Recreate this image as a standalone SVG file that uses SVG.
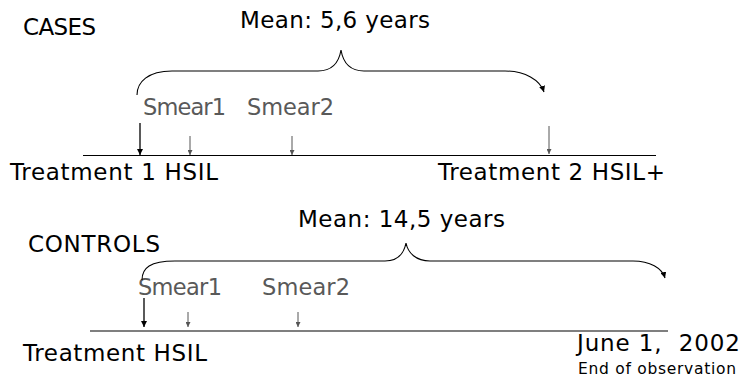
<svg xmlns="http://www.w3.org/2000/svg" width="743" height="378" viewBox="0 0 743 378">
<defs>
<marker id="ah" viewBox="0 0 10 10" refX="10" refY="5" markerWidth="6" markerHeight="6" markerUnits="userSpaceOnUse" orient="auto"><path d="M0,0 L10,5 L0,10 z" fill="#000"/></marker>
<marker id="ahg" viewBox="0 0 10 10" refX="10" refY="5" markerWidth="5" markerHeight="5" markerUnits="userSpaceOnUse" orient="auto"><path d="M0,0 L10,5 L0,10 z" fill="#555"/></marker>
<style>
text{font-family:"DejaVu Sans",Verdana,sans-serif;font-size:23px;fill:#000}
.g{fill:#595959;font-size:22.5px}
.s{font-size:15.5px}
.line{stroke:#000;stroke-width:1.2;fill:none}
.blk{stroke:#000;stroke-width:1.3;fill:none;marker-end:url(#ah)}
.gr{stroke:#555;stroke-width:1;fill:none;marker-end:url(#ahg)}
.br{stroke:#000;stroke-width:1.1;fill:none}
</style>
</defs>
<g id="cases-title"><text x="23" y="35" font-size="22" textLength="73">CASES</text></g>
<g id="cases-mean"><text x="240" y="28" textLength="190">Mean: 5,6 years</text></g>
<g id="cases-smear1"><text class="g" x="143" y="115" textLength="83">Smear1</text></g>
<g id="cases-smear2"><text class="g" x="247" y="115" textLength="87">Smear2</text></g>
<g id="cases-t1"><text x="10" y="180" textLength="208">Treatment 1 HSIL</text></g>
<g id="cases-t2"><text x="438" y="180" textLength="227">Treatment 2 HSIL+</text></g>
<g id="controls-title"><text x="28" y="252" textLength="132">CONTROLS</text></g>
<g id="controls-mean"><text x="298" y="227" textLength="207">Mean: 14,5 years</text></g>
<g id="controls-smear1"><text class="g" x="138" y="295" textLength="84">Smear1</text></g>
<g id="controls-smear2"><text class="g" x="262" y="295" textLength="88">Smear2</text></g>
<g id="controls-t"><text x="23" y="361" textLength="184">Treatment HSIL</text></g>
<g id="controls-end"><text x="577" y="351" textLength="163" xml:space="preserve">June 1,  2002</text><text class="s" x="578" y="374" textLength="158">End of observation</text></g>
<g id="connectors">
<line class="line" x1="83" y1="155.5" x2="656" y2="155.5"/>
<line class="blk" x1="140" y1="123" x2="140" y2="155"/>
<line class="gr" x1="190" y1="136" x2="190" y2="155"/>
<line class="gr" x1="292" y1="136" x2="292" y2="155"/>
<line class="gr" x1="549" y1="126" x2="549" y2="154"/>
<path class="br" d="M137,95 C137,82 148,71 172,71 L318,71 C332,71 339,62 341,50 C343,62 350,71 364,71 L505,71 C525,71 540,80 544,92" marker-end="url(#ah)"/>
<line class="line" x1="90" y1="331" x2="668" y2="331"/>
<line class="blk" x1="144" y1="298" x2="144" y2="327"/>
<line class="gr" x1="188" y1="312" x2="188" y2="327"/>
<line class="gr" x1="298" y1="312" x2="298" y2="327"/>
<path class="br" d="M142,280 C142,268 150,261 175,261 L385,261 C398,261 404,253 406,243 C408,253 416,261 430,261 L633,261 C650,261 662,268 665,278" marker-end="url(#ah)"/>
</g>
</svg>
